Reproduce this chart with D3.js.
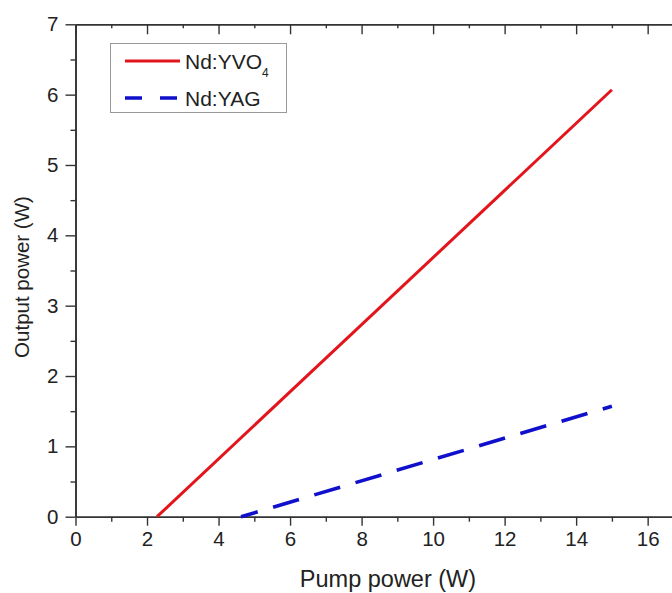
<!DOCTYPE html>
<html>
<head>
<meta charset="utf-8">
<script src="https://cdn.jsdelivr.net/npm/d3@7"></script>
<style>
  body { margin: 0; background: #fff; }
  svg { display: block; }
  text { font-family: "Liberation Sans", Arial, sans-serif; fill: #222; }
</style>
</head>
<body>
<svg id="chart" width="672" height="593"></svg>
<script>
// series (pump power W -> output power W)
const yvoPump = [2.28, 15];
const yvoOut = [0, 6.07];
const yagPump = [4.63, 15];
const yagOut = [0, 1.57];

// axis ticks
const xMajor = [0, 2, 4, 6, 8, 10, 12, 14, 16];
const xMinor = [1, 3, 5, 7, 9, 11, 13, 15];
const yMajor = [0, 1, 2, 3, 4, 5, 6, 7];
const yMinor = [0.5, 1.5, 2.5, 3.5, 4.5, 5.5, 6.5];

const legendNames = ["Nd:YVO", "Nd:YAG"];

const svg = d3.select("#chart");
const plotLeft = 75.5, plotTop = 24.3, plotBottom = 516.7;

let x = d3.scaleLinear().domain([0, 17]).range([plotLeft, plotLeft + 17 * 35.76]);
let y = d3.scaleLinear().domain([0, 7]).range([plotBottom, plotTop]);

const axisColor = "#333";

// bottom axis with labels (ticks outward)
let gx = svg.append("g").attr("transform", `translate(0,${plotBottom})`);
gx.call(d3.axisBottom(x).tickValues(xMajor).tickSize(9).tickSizeOuter(0).tickPadding(6).tickFormat(d3.format("")));
gx.append("g").call(d3.axisBottom(x).tickValues(xMinor).tickSize(5).tickSizeOuter(0).tickFormat(""));

// top axis, ticks pointing into plot
let gt = svg.append("g").attr("transform", `translate(0,${plotTop})`);
gt.call(d3.axisBottom(x).tickValues(xMajor).tickSize(10).tickSizeOuter(0).tickFormat(""));
gt.append("g").call(d3.axisBottom(x).tickValues(xMinor).tickSize(4).tickSizeOuter(0).tickFormat(""));

// left axis
let gy = svg.append("g").attr("transform", `translate(${plotLeft},0)`);
gy.call(d3.axisLeft(y).tickValues(yMajor).tickSize(10).tickSizeOuter(0).tickPadding(7).tickFormat(d3.format("")));
gy.append("g").call(d3.axisLeft(y).tickValues(yMinor).tickSize(5).tickSizeOuter(0).tickFormat(""));

svg.selectAll(".domain").attr("stroke", axisColor).attr("stroke-width", 1.6);
svg.selectAll(".tick line").attr("stroke", axisColor).attr("stroke-width", 1.4);
svg.selectAll(".tick text").style("font-size", "20.5px").attr("fill", "#222");

// axis titles
svg.append("text")
  .attr("x", 388).attr("y", 587)
  .attr("text-anchor", "middle")
  .style("font-size", "23.5px")
  .text("Pump power (W)");

svg.append("text")
  .attr("transform", "translate(29,277) rotate(-90)")
  .attr("text-anchor", "middle")
  .style("font-size", "20.5px")
  .text("Output power (W)");

// lines
const line = d3.line().x(d => x(d[0])).y(d => y(d[1]));

svg.append("path")
  .datum(d3.zip(yvoPump, yvoOut))
  .attr("d", line)
  .attr("fill", "none")
  .attr("stroke", "#e3151c")
  .attr("stroke-width", 3);

svg.append("path")
  .datum(d3.zip(yagPump, yagOut))
  .attr("d", line)
  .attr("fill", "none")
  .attr("stroke", "#1010cc")
  .attr("stroke-width", 3.6)
  .attr("stroke-dasharray", "27,16")
  .attr("stroke-dashoffset", 9.6);

// legend
let lg = svg.append("g");
lg.append("rect")
  .attr("x", 110.5).attr("y", 43.5).attr("width", 176).attr("height", 69)
  .attr("fill", "#fff").attr("stroke", "#999").attr("stroke-width", 1);

lg.append("line")
  .attr("x1", 125).attr("x2", 180).attr("y1", 61).attr("y2", 61)
  .attr("stroke", "#e3151c").attr("stroke-width", 3);
lg.append("line")
  .attr("x1", 125).attr("x2", 180).attr("y1", 98).attr("y2", 98)
  .attr("stroke", "#1010cc").attr("stroke-width", 3.6)
  .attr("stroke-dasharray", "17,18");

let t1 = lg.append("text").attr("x", 185).attr("y", 69).style("font-size", "21px");
t1.append("tspan").text(legendNames[0]);
t1.append("tspan").attr("dy", 8).style("font-size", "12px").text("4");

lg.append("text").attr("x", 185).attr("y", 106).style("font-size", "21px").text(legendNames[1]);
</script>
</body>
</html>
